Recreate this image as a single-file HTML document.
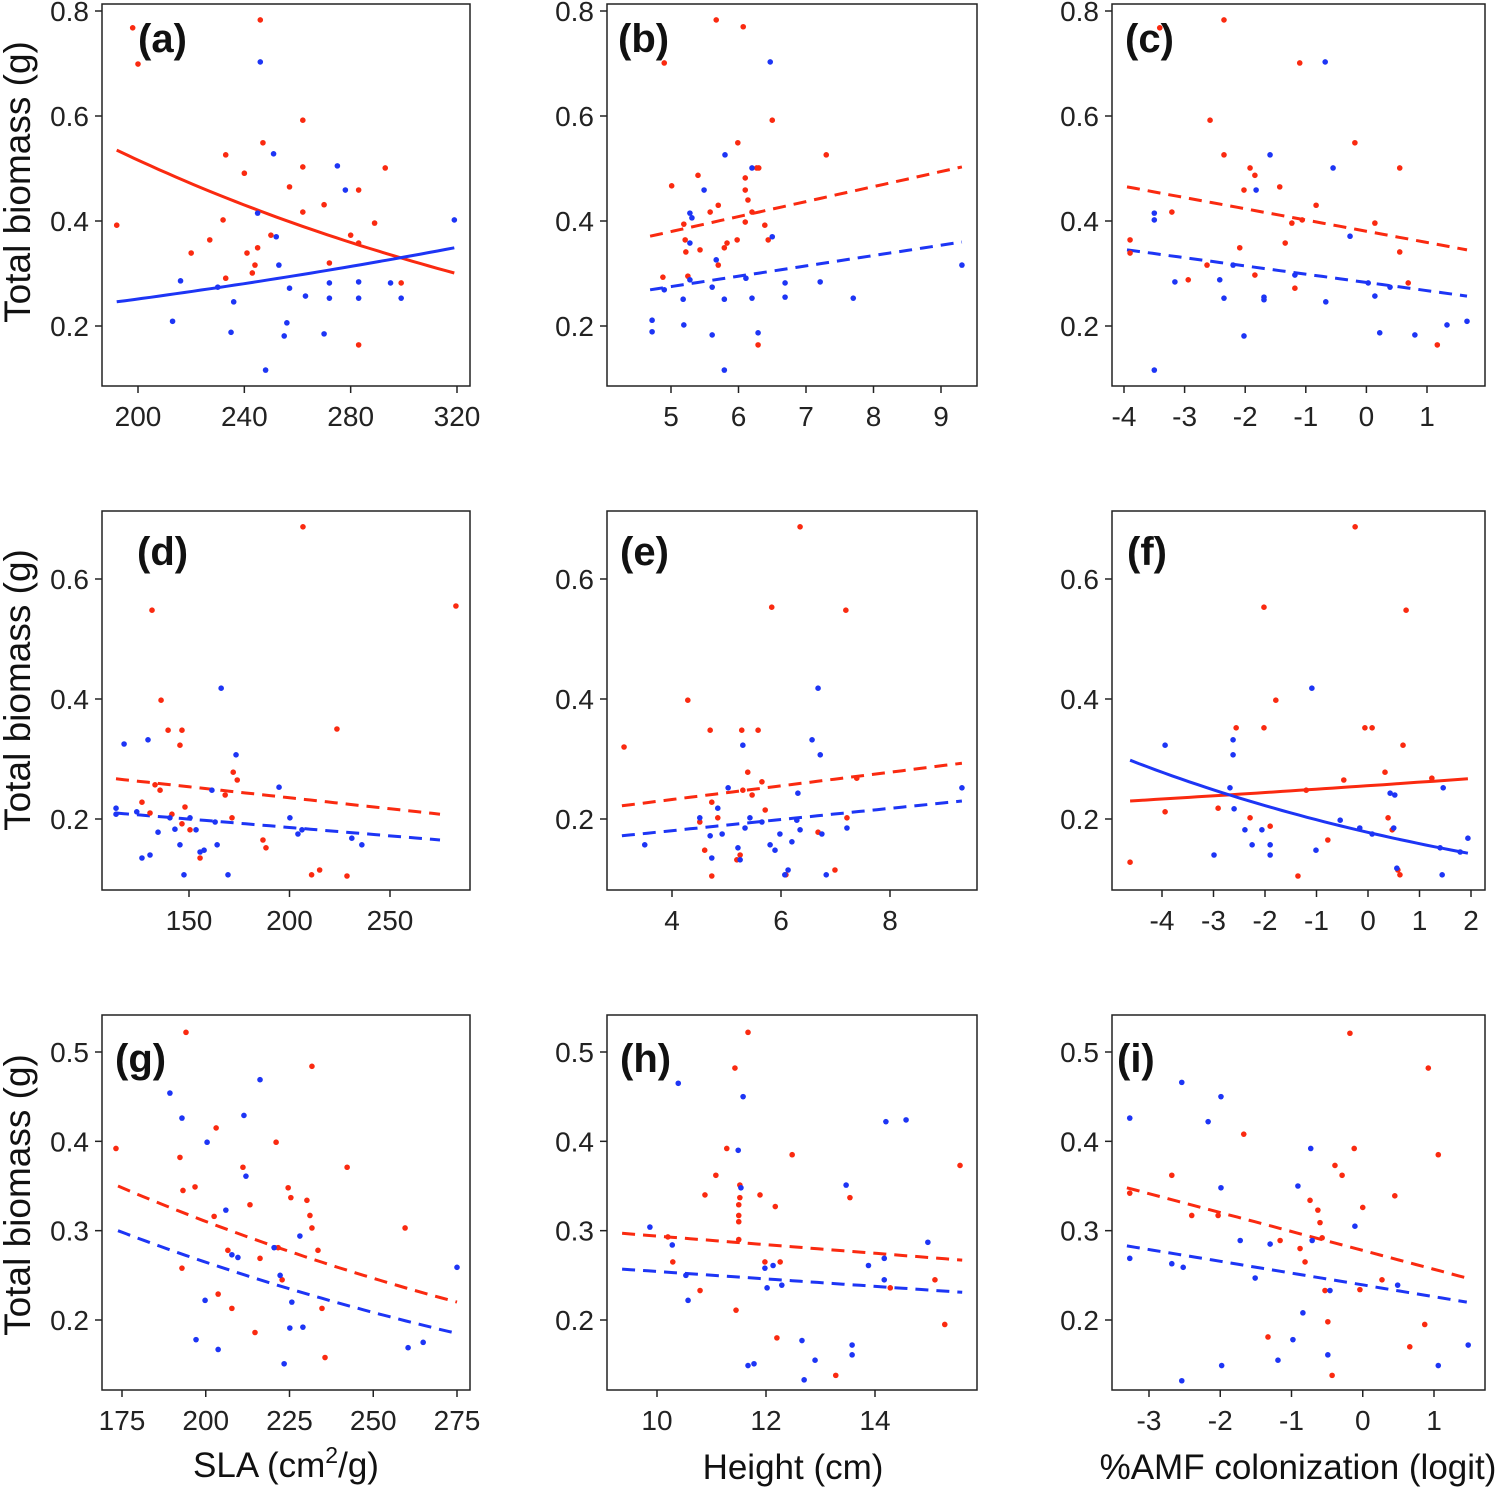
<!DOCTYPE html>
<html><head><meta charset="utf-8">
<style>
html,body{margin:0;padding:0;background:#fff;}
svg{display:block;font-family:"Liberation Sans",Arial,sans-serif;}
</style></head>
<body>
<svg id="chart" width="1500" height="1488" viewBox="0 0 1500 1488" xmlns="http://www.w3.org/2000/svg"></svg>
<script>
// ---- data: panel (a) SLA vs biomass, row 1
const aRedX=[192,198,200,220,227,232,233,233,240,241,243,245,246,247,244,250,257,262,262,262,270,272,280,283,283,283,289,293,299];
const aRedY=[0.392,0.768,0.699,0.339,0.364,0.402,0.526,0.291,0.491,0.339,0.301,0.349,0.783,0.549,0.316,0.373,0.465,0.417,0.592,0.503,0.431,0.320,0.373,0.459,0.358,0.164,0.396,0.501,0.282];
const aBlueX=[213,216,230,236,235,245,246,251,252,253,256,255,248,257,263,270,272,272,275,278,283,283,295,299,319];
const aBlueY=[0.209,0.286,0.274,0.246,0.188,0.415,0.703,0.528,0.370,0.316,0.206,0.181,0.116,0.272,0.257,0.185,0.282,0.253,0.505,0.459,0.253,0.284,0.282,0.253,0.402];
const aFitRed=[192,319,0.535,0.301];const aFitBlue=[192,319,0.246,0.349];
// panel (b) Height
const bRedX=[4.9,5.01,4.88,5.21,5.22,5.19,5.25,5.4,5.43,5.58,5.67,5.7,5.7,5.79,5.83,5.98,5.99,6.07,6.1,6.1,6.1,6.14,6.27,6.3,6.2,6.39,6.44,6.5,6.29,7.3];
const bRedY=[0.701,0.467,0.293,0.364,0.341,0.394,0.295,0.487,0.345,0.417,0.783,0.43,0.316,0.349,0.358,0.364,0.549,0.77,0.459,0.398,0.482,0.44,0.501,0.501,0.417,0.392,0.364,0.592,0.164,0.526];
const bBlueX=[4.72,4.72,4.9,5.18,5.19,5.28,5.28,5.31,5.28,5.49,5.61,5.61,5.67,5.8,5.79,5.79,6.11,6.2,6.2,6.29,6.47,6.5,6.69,6.69,7.21,7.7,9.31];
const bBlueY=[0.211,0.189,0.269,0.251,0.202,0.358,0.415,0.406,0.288,0.459,0.274,0.183,0.326,0.526,0.116,0.251,0.291,0.253,0.501,0.187,0.703,0.37,0.282,0.255,0.284,0.253,0.316];
const bFitRed=[4.69,9.31,0.371,0.503];const bFitBlue=[4.69,9.31,0.269,0.36];
// panel (c) AMF
const cRedX=[-3.9,-3.9,-3.41,-3.21,-2.94,-2.63,-2.58,-2.35,-2.35,-2.09,-2.02,-1.92,-1.84,-1.84,-1.43,-1.34,-1.23,-1.1,-1.06,-1.18,-0.83,-0.19,0.14,0.55,0.55,0.69,1.17];
const cRedY=[0.364,0.339,0.768,0.417,0.288,0.316,0.592,0.526,0.783,0.349,0.459,0.501,0.487,0.297,0.465,0.358,0.396,0.701,0.402,0.272,0.43,0.549,0.396,0.501,0.341,0.282,0.164];
const cBlueX=[-3.5,-3.5,-3.5,-3.16,-2.42,-2.35,-2.2,-2.02,-1.82,-1.69,-1.69,-1.59,-1.18,-0.68,-0.67,-0.55,-0.27,0.03,0.14,0.22,0.39,0.8,1.33,1.66];
const cBlueY=[0.415,0.402,0.116,0.284,0.288,0.253,0.316,0.181,0.459,0.255,0.25,0.526,0.297,0.703,0.246,0.501,0.371,0.282,0.257,0.187,0.274,0.183,0.202,0.209];
const cFitRed=[-3.95,1.66,0.465,0.345];const cFitBlue=[-3.95,1.66,0.345,0.257];
// panel (d)
const dRedX=[131.6,136.1,126.6,130.6,133.1,135.6,139.6,141.5,146.5,145.5,148,146.5,150.5,155.5,168,172,174,171.4,186.8,188.3,206.7,211,215,223.6,228.6,282.8];
const dRedY=[0.548,0.398,0.228,0.21,0.257,0.248,0.348,0.208,0.348,0.323,0.22,0.192,0.182,0.135,0.24,0.278,0.265,0.202,0.165,0.152,0.687,0.107,0.115,0.35,0.105,0.555];
const dBlueX=[113.7,113.7,117.7,124,126.6,129.6,130.6,134.6,140.5,143,145.5,147.5,150.5,153.5,155.5,157.5,161.4,163,164,166,169.4,173.4,194.8,200.2,204.2,206.2,231,236];
const dBlueY=[0.218,0.208,0.325,0.212,0.135,0.332,0.14,0.178,0.202,0.183,0.157,0.107,0.202,0.182,0.145,0.148,0.248,0.195,0.157,0.418,0.107,0.307,0.253,0.202,0.175,0.182,0.168,0.157];
const dFitRed=[113.7,274.9,0.267,0.208];const dFitBlue=[113.7,274.9,0.21,0.165];
// panel (e)
const eRedX=[3.12,4.29,4.51,4.6,4.7,4.73,4.73,4.84,5.19,5.25,5.28,5.3,5.39,5.47,5.58,5.65,5.71,5.83,6.09,6.35,6.68,6.99,7.19,7.21,7.39];
const eRedY=[0.32,0.398,0.195,0.148,0.348,0.228,0.105,0.202,0.132,0.14,0.348,0.248,0.278,0.24,0.348,0.262,0.215,0.553,0.107,0.687,0.178,0.115,0.548,0.202,0.268];
const eBlueX=[3.5,4.51,4.7,4.73,4.84,4.92,5.03,5.21,5.25,5.3,5.34,5.43,5.65,5.8,5.89,5.98,6.07,6.13,6.2,6.29,6.35,6.31,6.57,6.68,6.72,6.75,6.83,7.21,9.32];
const eBlueY=[0.157,0.202,0.172,0.135,0.218,0.175,0.252,0.152,0.132,0.323,0.185,0.202,0.195,0.157,0.148,0.175,0.107,0.115,0.162,0.198,0.182,0.243,0.332,0.418,0.307,0.175,0.107,0.185,0.252];
const eFitRed=[3.08,9.32,0.222,0.293];const eFitBlue=[3.08,9.32,0.172,0.23];
// panel (f)
const fRedX=[-4.62,-3.94,-2.91,-2.56,-2.29,-2.02,-2.02,-1.9,-1.79,-1.36,-1.2,-0.78,-0.47,-0.25,-0.06,0.08,0.33,0.39,0.47,0.58,0.62,0.68,0.74,1.24];
const fRedY=[0.128,0.212,0.218,0.352,0.202,0.553,0.352,0.188,0.398,0.105,0.248,0.165,0.265,0.687,0.352,0.352,0.278,0.202,0.182,0.115,0.107,0.323,0.548,0.268];
const fBlueX=[-3.94,-2.99,-2.68,-2.62,-2.62,-2.6,-2.39,-2.25,-2.06,-1.9,-1.9,-1.09,-1.01,-0.54,-0.16,0.08,0.43,0.52,0.56,0.5,1.4,1.44,1.46,1.79,1.94];
const fBlueY=[0.323,0.14,0.252,0.332,0.307,0.217,0.182,0.157,0.182,0.157,0.14,0.418,0.148,0.198,0.185,0.175,0.243,0.24,0.118,0.185,0.152,0.107,0.252,0.145,0.168];
const fFitRed=[-4.62,1.94,0.23,0.267];const fFitBlue=[-4.62,1.94,0.298,0.143];
// panel (g)
const gRedX=[173.2,194.1,192.3,193.2,192.9,196.8,203.1,202.5,203.7,206.6,207.8,211.1,213.2,214.7,216.2,221,221.6,222.8,224.6,225.4,230.2,231.1,231.7,231.7,233.5,234.7,235.6,242.2,259.5];
const gRedY=[0.392,0.522,0.382,0.345,0.258,0.349,0.415,0.316,0.229,0.278,0.213,0.371,0.329,0.186,0.269,0.399,0.281,0.245,0.348,0.337,0.334,0.317,0.484,0.303,0.278,0.213,0.158,0.371,0.303];
const gBlueX=[189.3,192.9,197.1,200.4,199.8,203.7,206,207.8,209.6,211.4,212,216.2,220.4,222.2,223.4,225.1,225.7,228.1,229,260.4,264.9,275];
const gBlueY=[0.454,0.426,0.178,0.399,0.222,0.167,0.323,0.273,0.27,0.429,0.361,0.469,0.281,0.25,0.151,0.191,0.22,0.294,0.192,0.169,0.175,0.259];
const gFitRed=[173.8,275,0.35,0.22];const gFitBlue=[173.8,275,0.30,0.185];
// panel (h)
const hRedX=[10.2,10.29,10.79,10.88,11.08,11.28,11.43,11.5,11.5,11.5,11.5,11.52,11.52,11.45,11.67,11.89,11.98,12.17,12.26,12.2,12.48,13.28,13.54,14.28,15.1,15.28,15.56];
const hRedY=[0.293,0.265,0.233,0.34,0.362,0.392,0.482,0.329,0.317,0.31,0.29,0.351,0.337,0.211,0.522,0.34,0.265,0.327,0.265,0.18,0.385,0.138,0.337,0.236,0.245,0.195,0.373];
const hBlueX=[9.87,10.28,10.39,10.53,10.57,11.49,11.54,11.58,11.67,11.78,11.98,12.02,12.13,12.29,12.66,12.7,12.9,13.47,13.58,13.58,13.88,14.17,14.2,14.17,14.57,14.97];
const hBlueY=[0.304,0.284,0.465,0.25,0.222,0.39,0.348,0.45,0.149,0.151,0.258,0.236,0.261,0.239,0.177,0.133,0.155,0.351,0.172,0.161,0.261,0.269,0.422,0.245,0.424,0.287];
const hFitRed=[9.36,15.6,0.297,0.267];const hFitBlue=[9.36,15.6,0.257,0.231];
// panel (i)
const iRedX=[-3.27,-2.68,-2.4,-2.03,-1.67,-1.33,-1.16,-0.88,-0.81,-0.74,-0.63,-0.6,-0.57,-0.53,-0.49,-0.43,-0.39,-0.29,-0.18,-0.12,0,-0.04,0.27,0.45,0.66,0.87,0.92,1.06];
const iRedY=[0.342,0.362,0.317,0.317,0.408,0.181,0.289,0.28,0.265,0.334,0.323,0.309,0.292,0.233,0.198,0.138,0.373,0.362,0.521,0.392,0.326,0.234,0.245,0.339,0.17,0.195,0.482,0.385];
const iBlueX=[-3.27,-3.27,-2.68,-2.54,-2.54,-2.52,-2.17,-1.99,-1.99,-1.98,-1.72,-1.51,-1.3,-1.19,-0.98,-0.91,-0.84,-0.73,-0.71,-0.49,-0.46,-0.11,0.49,1.06,1.48];
const iBlueY=[0.426,0.269,0.263,0.466,0.132,0.259,0.422,0.45,0.348,0.149,0.289,0.247,0.285,0.155,0.178,0.35,0.208,0.392,0.289,0.161,0.233,0.305,0.239,0.149,0.172];
const iFitRed=[-3.31,1.46,0.348,0.247];const iFitBlue=[-3.31,1.46,0.283,0.22];

const xTicksA=[200,240,280,320],xTicksB=[5,6,7,8,9],xTicksC=[-4,-3,-2,-1,0,1];
const xTicksD=[150,200,250],xTicksE=[4,6,8],xTicksF=[-4,-3,-2,-1,0,1,2];
const xTicksG=[175,200,225,250,275],xTicksH=[10,12,14],xTicksI=[-3,-2,-1,0,1];
const yTicks1=[0.2,0.4,0.6,0.8],yTicks2=[0.2,0.4,0.6],yTicks3=[0.2,0.3,0.4,0.5];

const NS="http://www.w3.org/2000/svg";
const svg=document.getElementById('chart');
const RED="#fa2a10",BLUE="#1d35f5";
function mk(tag,attrs,parent){const e=document.createElementNS(NS,tag);for(const k in attrs)e.setAttribute(k,attrs[k]);(parent||svg).appendChild(e);return e;}
function lin(d0,d1,p0,p1){return v=>p0+(v-d0)*(p1-p0)/(d1-d0);}

function panel(cfg){
  const g=mk('g',{});
  
  
  const X=lin(cfg.xa[0],cfg.xa[1],cfg.xa[2],cfg.xa[3]);
  const Y=lin(cfg.ya[0],cfg.ya[1],cfg.ya[2],cfg.ya[3]);
  const b=cfg.box;
  const fr=mk('rect',{x:b[0],y:b[1],width:b[2]-b[0],height:b[3]-b[1],fill:'none',stroke:'#222','stroke-width':1.5},g);
  
  
  cfg.xt.forEach(t=>{
    const px=X(t);
    mk('line',{x1:px,x2:px,y1:b[3],y2:b[3]+7,stroke:'#222','stroke-width':1.5},g);
    const tx=mk('text',{x:px,y:b[3]+40,'font-size':28,'text-anchor':'middle',fill:'#222'},g);
    tx.textContent=String(t);
    
    
  });
  cfg.yt.forEach(t=>{
    const py=Y(t);
    mk('line',{x1:b[0]-7,x2:b[0],y1:py,y2:py,stroke:'#222','stroke-width':1.5},g);
    const tx=mk('text',{x:b[0]-13,y:py+10,'font-size':28,'text-anchor':'end',fill:'#222'},g);
    tx.textContent=t.toFixed(1);
    
    
  });
  [[cfg.fr,RED,'red'],[cfg.fb,BLUE,'blue']].forEach(([f,col,nm])=>{
    let d='';const n=40;
    for(let k=0;k<=n;k++){const t=k/n;const xv=f[0]+(f[1]-f[0])*t;
      const yv=cfg.curve?f[2]*Math.pow(f[3]/f[2],t):f[2]+(f[3]-f[2])*t;
      d+=(k?'L':'M')+X(xv).toFixed(1)+' '+Y(yv).toFixed(1);}
    const p=mk('path',{d:d,fill:'none',stroke:col,'stroke-width':3,'stroke-dasharray':cfg.dash?'13 8':'none'},g);
    
    
  });
  [[cfg.rx,cfg.ry,RED,'red'],[cfg.bx,cfg.by,BLUE,'blue']].forEach(([xs,ys,col,nm])=>{
    xs.forEach((xv,i)=>{
      const c=mk('circle',{cx:X(xv),cy:Y(ys[i]),r:2.8,fill:col},g);
      
      
    });
  });
  const lb=mk('text',{x:cfg.lab[0],y:cfg.lab[1],'font-size':40,'font-weight':'bold',fill:'#111'},g);
  lb.textContent='('+cfg.id+')';
  
  
}

const R1=[4,386],R2=[511,890],R3=[1015,1390];
const y1=[0.8,0.2,11,326],y2=[0.6,0.2,579,819],y3=[0.5,0.2,1052,1320];
panel({id:'a',box:[102,R1[0],470,R1[1]],xa:[200,320,138,457],ya:y1,xt:xTicksA,yt:yTicks1,rx:aRedX,ry:aRedY,bx:aBlueX,by:aBlueY,fr:aFitRed,fb:aFitBlue,curve:true,dash:false,lab:[138,52]});
panel({id:'b',box:[607,R1[0],977,R1[1]],xa:[5,9,671,941],ya:y1,xt:xTicksB,yt:yTicks1,rx:bRedX,ry:bRedY,bx:bBlueX,by:bBlueY,fr:bFitRed,fb:bFitBlue,curve:false,dash:true,lab:[618,52]});
panel({id:'c',box:[1112,R1[0],1485,R1[1]],xa:[-4,1,1124,1427],ya:y1,xt:xTicksC,yt:yTicks1,rx:cRedX,ry:cRedY,bx:cBlueX,by:cBlueY,fr:cFitRed,fb:cFitBlue,curve:false,dash:true,lab:[1125,52]});
panel({id:'d',box:[102,R2[0],470,R2[1]],xa:[150,250,189,390],ya:y2,xt:xTicksD,yt:yTicks2,rx:dRedX,ry:dRedY,bx:dBlueX,by:dBlueY,fr:dFitRed,fb:dFitBlue,curve:false,dash:true,lab:[137,565]});
panel({id:'e',box:[607,R2[0],977,R2[1]],xa:[4,8,672,890],ya:y2,xt:xTicksE,yt:yTicks2,rx:eRedX,ry:eRedY,bx:eBlueX,by:eBlueY,fr:eFitRed,fb:eFitBlue,curve:false,dash:true,lab:[620,565]});
panel({id:'f',box:[1112,R2[0],1485,R2[1]],xa:[-4,2,1162,1471],ya:y2,xt:xTicksF,yt:yTicks2,rx:fRedX,ry:fRedY,bx:fBlueX,by:fBlueY,fr:fFitRed,fb:fFitBlue,curve:true,dash:false,lab:[1127,565]});
panel({id:'g',box:[102,R3[0],470,R3[1]],xa:[175,275,122,457],ya:y3,xt:xTicksG,yt:yTicks3,rx:gRedX,ry:gRedY,bx:gBlueX,by:gBlueY,fr:gFitRed,fb:gFitBlue,curve:true,dash:true,lab:[115,1072]});
panel({id:'h',box:[607,R3[0],977,R3[1]],xa:[10,14,657,875],ya:y3,xt:xTicksH,yt:yTicks3,rx:hRedX,ry:hRedY,bx:hBlueX,by:hBlueY,fr:hFitRed,fb:hFitBlue,curve:false,dash:true,lab:[620,1072]});
panel({id:'i',box:[1112,R3[0],1485,R3[1]],xa:[-3,1,1149,1434],ya:y3,xt:xTicksI,yt:yTicks3,rx:iRedX,ry:iRedY,bx:iBlueX,by:iBlueY,fr:iFitRed,fb:iFitBlue,curve:false,dash:true,lab:[1117,1072]});

[[182],[690],[1195]].forEach(([cy],k)=>{
  const t=mk('text',{x:0,y:0,'font-size':37,'text-anchor':'middle',fill:'#111',transform:'translate(30,'+cy+') rotate(-90)'});
  t.textContent='Total biomass (g)';
  
  
});
const xt1=mk('text',{x:286,y:1477,'font-size':35,'text-anchor':'middle',fill:'#111'});
xt1.innerHTML='SLA (cm<tspan dy="-14" font-size="23">2</tspan><tspan dy="14">/g)</tspan>';


const xt2=mk('text',{x:793,y:1479,'font-size':35,'text-anchor':'middle',fill:'#111'});
xt2.textContent='Height (cm)';


const xt3=mk('text',{x:1298,y:1479,'font-size':35,'text-anchor':'middle',fill:'#111'});
xt3.textContent='%AMF colonization (logit)';


</script>
</body></html>
